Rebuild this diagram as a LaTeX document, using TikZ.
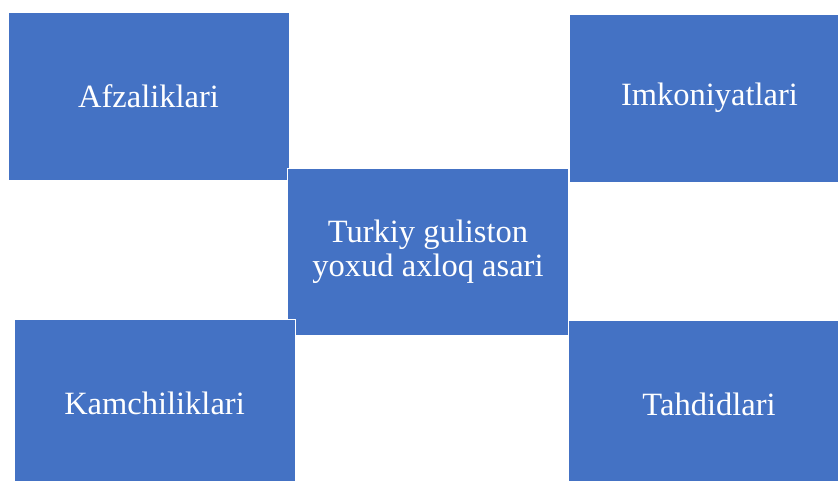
\documentclass[tikz,border=0pt]{standalone}
\usepackage{fontspec}
\setmainfont{Liberation Serif}
\definecolor{swotblue}{HTML}{4472C4}
\tikzset{
  swotbox/.style = {fill = swotblue, draw = white, line width = 1pt, text = white,
    inner sep = 0pt, align = center, font = \fontsize{32.5}{34}\selectfont},
  cornerbox/.style = {swotbox, minimum width = 281pt, minimum height = 168pt}
}
\begin{document}
\begin{tikzpicture} [x = 1pt, y = -1pt]
\path [use as bounding box] (0,0) rectangle (838,480);
\clip (0,0) rectangle (838,480);
\fill [white] (0,0) rectangle (838,480);
% upper row
\node [cornerbox] (afz) at (148.5,96) {Afzaliklari};
\node [cornerbox] (imk) at (709.5,98) {Imkoniyatlari};
% middle
\node [swotbox, minimum width = 281pt, minimum height = 167pt] (asar) at (428,251.5) {Turkiy guliston\\yoxud axloq asari};
% lower row
\node [cornerbox] (kam) at (154.5,403) {Kamchiliklari};
\node [cornerbox] (tah) at (709,404) {Tahdidlari};
\end{tikzpicture}
\end{document}
